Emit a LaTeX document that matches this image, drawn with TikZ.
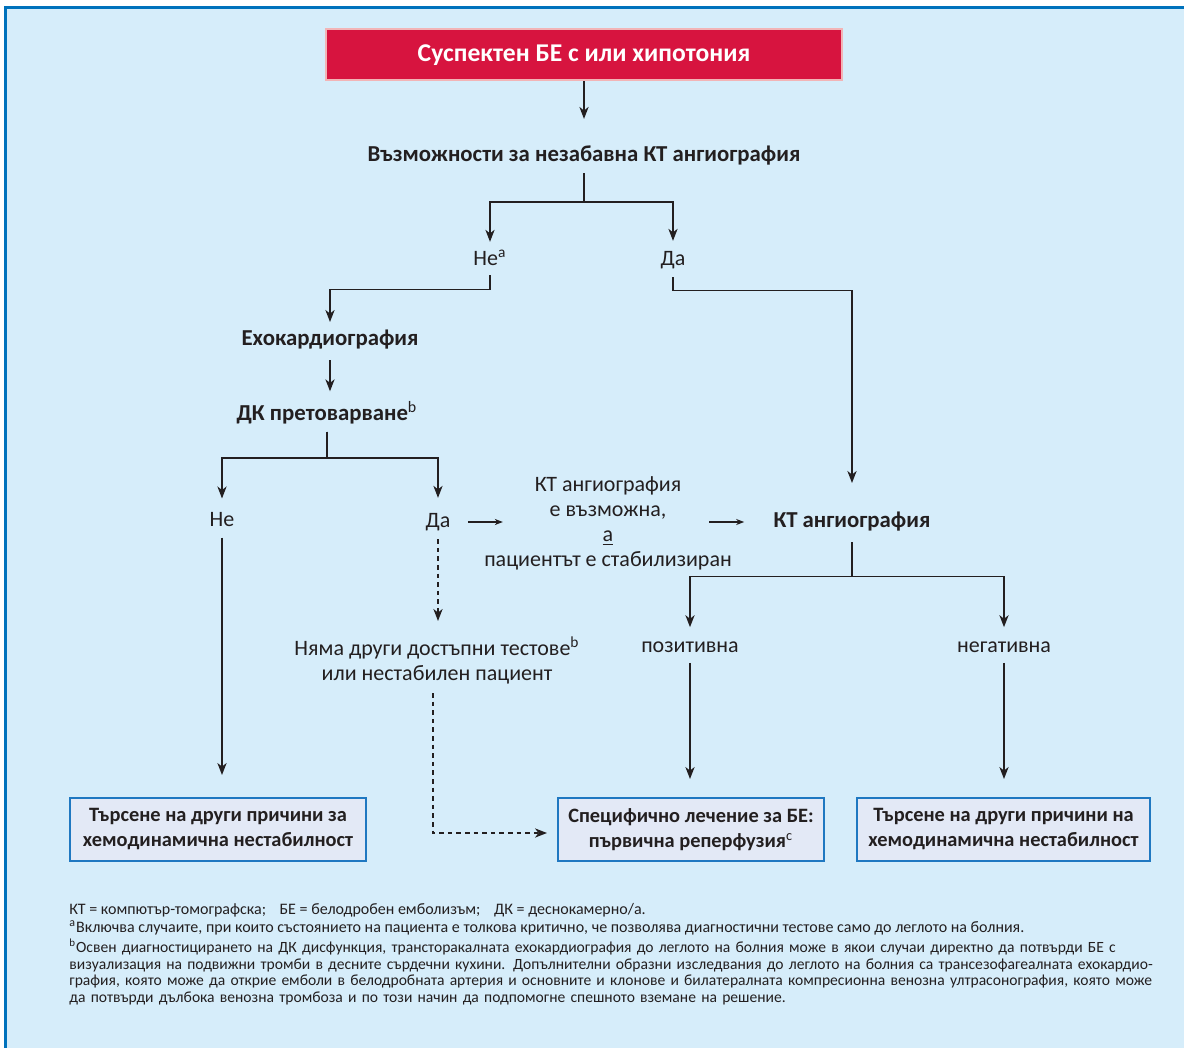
\documentclass[tikz,border=0pt]{standalone}
\usepackage{fontspec}
\setmainfont{Carlito}
\usepackage{tikz}
\usetikzlibrary{arrows.meta,positioning,calc}
\definecolor{escink}{HTML}{231F20}
\definecolor{escframe}{HTML}{0072BC}
\definecolor{escbg}{HTML}{D6EDFA}
\definecolor{escred}{HTML}{D7143F}
\definecolor{escredge}{HTML}{F2B4B6}
\definecolor{escbox}{HTML}{E3E9F6}
\definecolor{escboxedge}{HTML}{1F78C1}
\newcommand{\fnline}[1]{\makebox[540.5pt][s]{#1}}
\newcommand{\fnspacing}{\spaceskip=1.6pt plus 3pt minus 0.5pt\relax}

\begin{document}
\begin{tikzpicture}[
  x=0.5pt, y=-0.5pt,
  font=\fontsize{11}{12.5}\selectfont, text=escink,
  startbox/.style={draw=escredge, line width=1pt, fill=escred, text=white,
    minimum width=258pt, minimum height=25.5pt,
    font=\fontsize{12.8}{14}\selectfont\bfseries},
  head/.style={font=\fontsize{11.4}{13}\selectfont\bfseries, inner sep=2pt},
  lbl/.style={inner sep=2pt},
  outbox/.style={draw=escboxedge, line width=1pt, fill=escbox,
    minimum height=31.5pt, align=center,
    font=\fontsize{10.2}{12.5}\selectfont\bfseries},
  arr/.style={-{Stealth[length=6pt,width=4.6pt,inset=1.8pt]}, line width=0.75pt, draw=escink},
  smallarr/.style={-{Stealth[length=4pt,width=3pt,inset=1.2pt]}, line width=0.6pt, draw=escink},
  dasharr/.style={arr, dash pattern=on 2.3pt off 2pt},
  note/.style={inner sep=0pt, font=\fontsize{8}{8.3}\selectfont}
]
  \useasboundingbox (0,0) rectangle (1184,1048);
  % panel
  \fill[escbg] (5,7) rectangle (1184,1048);
  \draw[escframe, line width=1.6pt] (5.5,1048) -- (5.5,7.5) -- (1184,7.5);

  % top
  \node[startbox] (susp) at (584,55) {Суспектен БЕ с или хипотония};
  \node[head] (ctq) at (584,155) {Възможности за незабавна КТ ангиография};
  \node[lbl] (noa) at (490,258) {Не\textsuperscript{a}};
  \node[lbl] (yesa) at (673,260) {Да};

  % left branch
  \node[head] (echo) at (330,340) {Ехокардиография};
  \node[head] (rvo) at (327,413) {ДК претоварване\textsuperscript{\normalfont b}};
  \node[lbl] (nob) at (222,520) {Не};
  \node[lbl] (yesb) at (438,522) {Да};
  \node[lbl, align=center] (cond) at (608,523)
    {КТ ангиография\\е възможна,\\\underline{а}\\пациентът е стабилизиран};
  \node[lbl, align=center] (nomore) at (437,660)
    {Няма други достъпни тестове\textsuperscript{b}\\или нестабилен пациент};

  % right branch
  \node[head] (cta) at (852,522) {КТ ангиография};
  \node[lbl] (pos) at (690,647) {позитивна};
  \node[lbl] (neg) at (1004,647) {негативна};

  % outcomes
  \node[outbox, minimum width=148pt] (other1) at (218,829.5)
    {Търсене на други причини за\\хемодинамична нестабилност};
  \node[outbox, minimum width=133pt] (reperf) at (691,829.5)
    {Специфично лечение за БЕ:\\първична реперфузия\textsuperscript{\normalfont c}};
  \node[outbox, minimum width=146.5pt] (other2) at (1003.5,829.5)
    {Търсене на други причини на\\хемодинамична нестабилност};

  % connectors
  \draw[arr, shorten >=11pt] (susp.south) -- (ctq.north);
  \draw[arr, shorten <=2pt, shorten >=2pt] (ctq.south) -- ++(0,33) -| (noa.north);
  \draw[arr, shorten <=2pt, shorten >=3pt] (ctq.south) -- ++(0,33) -| (yesa.north);
  \draw[arr, shorten <=2.5pt, shorten >=2pt] (noa.south) -- ++(0,19.5) -| (echo.north);
  \draw[arr, shorten <=2pt, shorten >=12.5pt] (yesa.south) -- ++(0,17.5) -| (cta.north);
  \draw[arr, shorten <=3pt, shorten >=3pt] (echo.south) -- (echo.south |- rvo.north);
  \draw[arr, shorten <=1.5pt, shorten >=5pt] (rvo.south) -- ++(0,29.5) -| (nob.north);
  \draw[arr, shorten <=1.5pt, shorten >=5.5pt] (rvo.south) -- ++(0,29.5) -| (yesb.north);
  \draw[arr, shorten <=3pt, shorten >=11pt] (nob.south) -- (nob.south |- other1.north);
  \draw[smallarr] ($(yesb.east)+(13,0)$) -- ($(yesb.east -| cond.west)+(23,0)$);
  \draw[smallarr] ($(cta.west -| cond.east)+(-27,0)$) -- ($(cta.west)+(-25,0)$);
  \draw[dasharr, shorten <=2pt, shorten >=5.5pt] (yesb.south) -- (yesb.south |- nomore.north);
  \draw[dasharr, shorten <=2.5pt, shorten >=5pt] ($(nomore.south)+(-4,0)$) |- ($(reperf.west)+(0,3.5)$);
  \draw[arr, shorten <=3pt, shorten >=5pt] (cta.south) -- ++(0,40.5) -| (pos.north);
  \draw[arr, shorten <=3pt, shorten >=5pt] (cta.south) -- ++(0,40.5) -| (neg.north);
  \draw[arr, shorten <=3pt, shorten >=9pt] (pos.south) -- (pos.south |- reperf.north);
  \draw[arr, shorten <=3pt, shorten >=9pt] (neg.south) -- (neg.south |- other2.north);

  % footnotes
  \node[note, anchor=base west] (fnabbr) at (69,914)
    {КТ = компютър-томографска;\hspace{5pt} БЕ = белодробен емболизъм;\hspace{5pt} ДК = деснокамерно/а.};
  \node[note, anchor=base west] (fna) at (69,932)
    {\textsuperscript{a}Включва случаите, при които състоянието на пациента е толкова критично, че позволява диагностични тестове само до леглото на болния.};
  \node[note, anchor=north west, text width=540.5pt, align=left,
    font=\fontsize{7.8}{8.3}\selectfont\fnspacing] (fnb) at (69,939)
    {\fnline{\textsuperscript{b}Освен диагностицирането на ДК дисфункция, трансторакалната ехокардиография до леглото на болния може в якои случаи директно да потвърди БЕ с}\\
     \fnline{визуализация на подвижни тромби в десните сърдечни кухини. Допълнителни образни изследвания до леглото на болния са трансезофагеалната ехокардио-}\\
     \fnline{графия, която може да открие емболи в белодробната артерия и основните и клонове и билатералната компресионна венозна ултрасонография, която може}\\
     да потвърди дълбока венозна тромбоза и по този начин да подпомогне спешното вземане на решение.};
\end{tikzpicture}
\end{document}
